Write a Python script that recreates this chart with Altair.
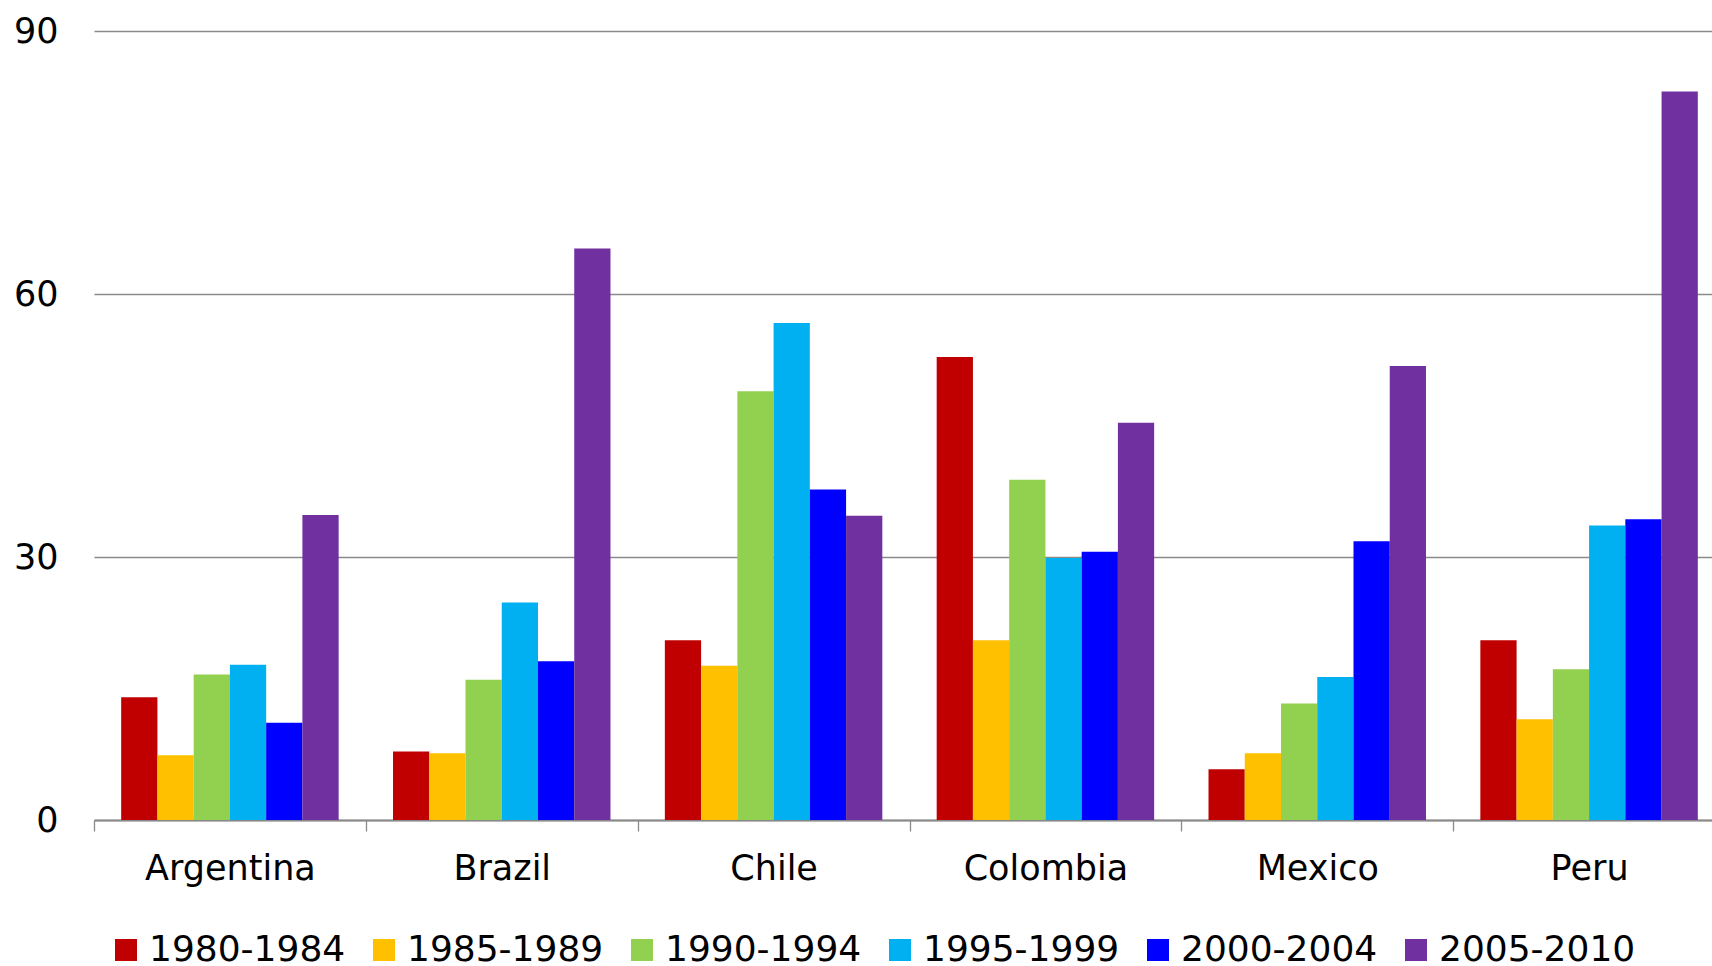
import altair as alt
import pandas as pd

countries = ["Argentina", "Brazil", "Chile", "Colombia", "Mexico", "Peru"]
periods = ["1980-1984", "1985-1989", "1990-1994", "1995-1999", "2000-2004", "2005-2010"]
colors = ["#C00000", "#FFC000", "#92D050", "#00B0F0", "#0000FF", "#7030A0"]

v_1980_1984 = [14.0, 7.8, 20.5, 52.8, 5.8, 20.5]
v_1985_1989 = [7.4, 7.6, 17.6, 20.5, 7.6, 11.5]
v_1990_1994 = [16.6, 16.0, 48.9, 38.8, 13.3, 17.2]
v_1995_1999 = [17.7, 24.8, 56.7, 29.9, 16.3, 33.6]
v_2000_2004 = [11.1, 18.1, 37.7, 30.6, 31.8, 34.3]
v_2005_2010 = [34.8, 65.2, 34.7, 45.3, 51.8, 83.1]

series = [v_1980_1984, v_1985_1989, v_1990_1994, v_1995_1999, v_2000_2004, v_2005_2010]
rows = []
for period, vals in zip(periods, series):
    for country, v in zip(countries, vals):
        rows.append({"country": country, "period": period, "value": v})
df = pd.DataFrame(rows)

FONT = "DejaVu Sans"

chart = (
    alt.Chart(df)
    .mark_bar()
    .encode(
        x=alt.X(
            "country:N",
            sort=countries,
            title=None,
            scale=alt.Scale(paddingInner=0, paddingOuter=0, range=[0, 1631]),
            axis=alt.Axis(
                labelAngle=0,
                labelFontSize=35,
                labelColor="black",
                labelPadding=20,
                tickBand="extent",
                tickSize=11,
                tickColor="#8a8a8a",
                tickWidth=1.3,
                domainColor="#8a8a8a",
                domainWidth=2,
                grid=False,
            ),
        ),
        xOffset=alt.XOffset(
            "period:N",
            sort=periods,
            scale=alt.Scale(paddingInner=0, paddingOuter=0.75),
        ),
        y=alt.Y(
            "value:Q",
            title=None,
            scale=alt.Scale(domain=[0, 90], nice=False),
            axis=alt.Axis(
                values=[0, 30, 60, 90],
                labelFontSize=35,
                labelColor="black",
                labelPadding=36,
                ticks=False,
                domain=False,
                gridColor="#8a8a8a",
                gridWidth=1.3,
            ),
        ),
        color=alt.Color(
            "period:N",
            sort=periods,
            scale=alt.Scale(domain=periods, range=colors),
            legend=alt.Legend(
                title=None,
                orient="none",
                legendX=14,
                legendY=901,
                direction="horizontal",
                columns=6,
                symbolType="square",
                symbolSize=484,
                symbolStrokeWidth=0,
                labelFontSize=36,
                labelColor="black",
                labelOffset=5,
                labelLimit=400,
                columnPadding=20,
            ),
        ),
    )
    .properties(
        width=1618,
        height=789,
        padding={"left": 94, "top": 31, "right": 0, "bottom": 146},
        autosize=alt.AutoSizeParams(type="none"),
    )
    .configure(font=FONT)
    .configure_view(stroke=None)
)

chart.save("out.html", embed_options={"renderer": "svg", "actions": False})
